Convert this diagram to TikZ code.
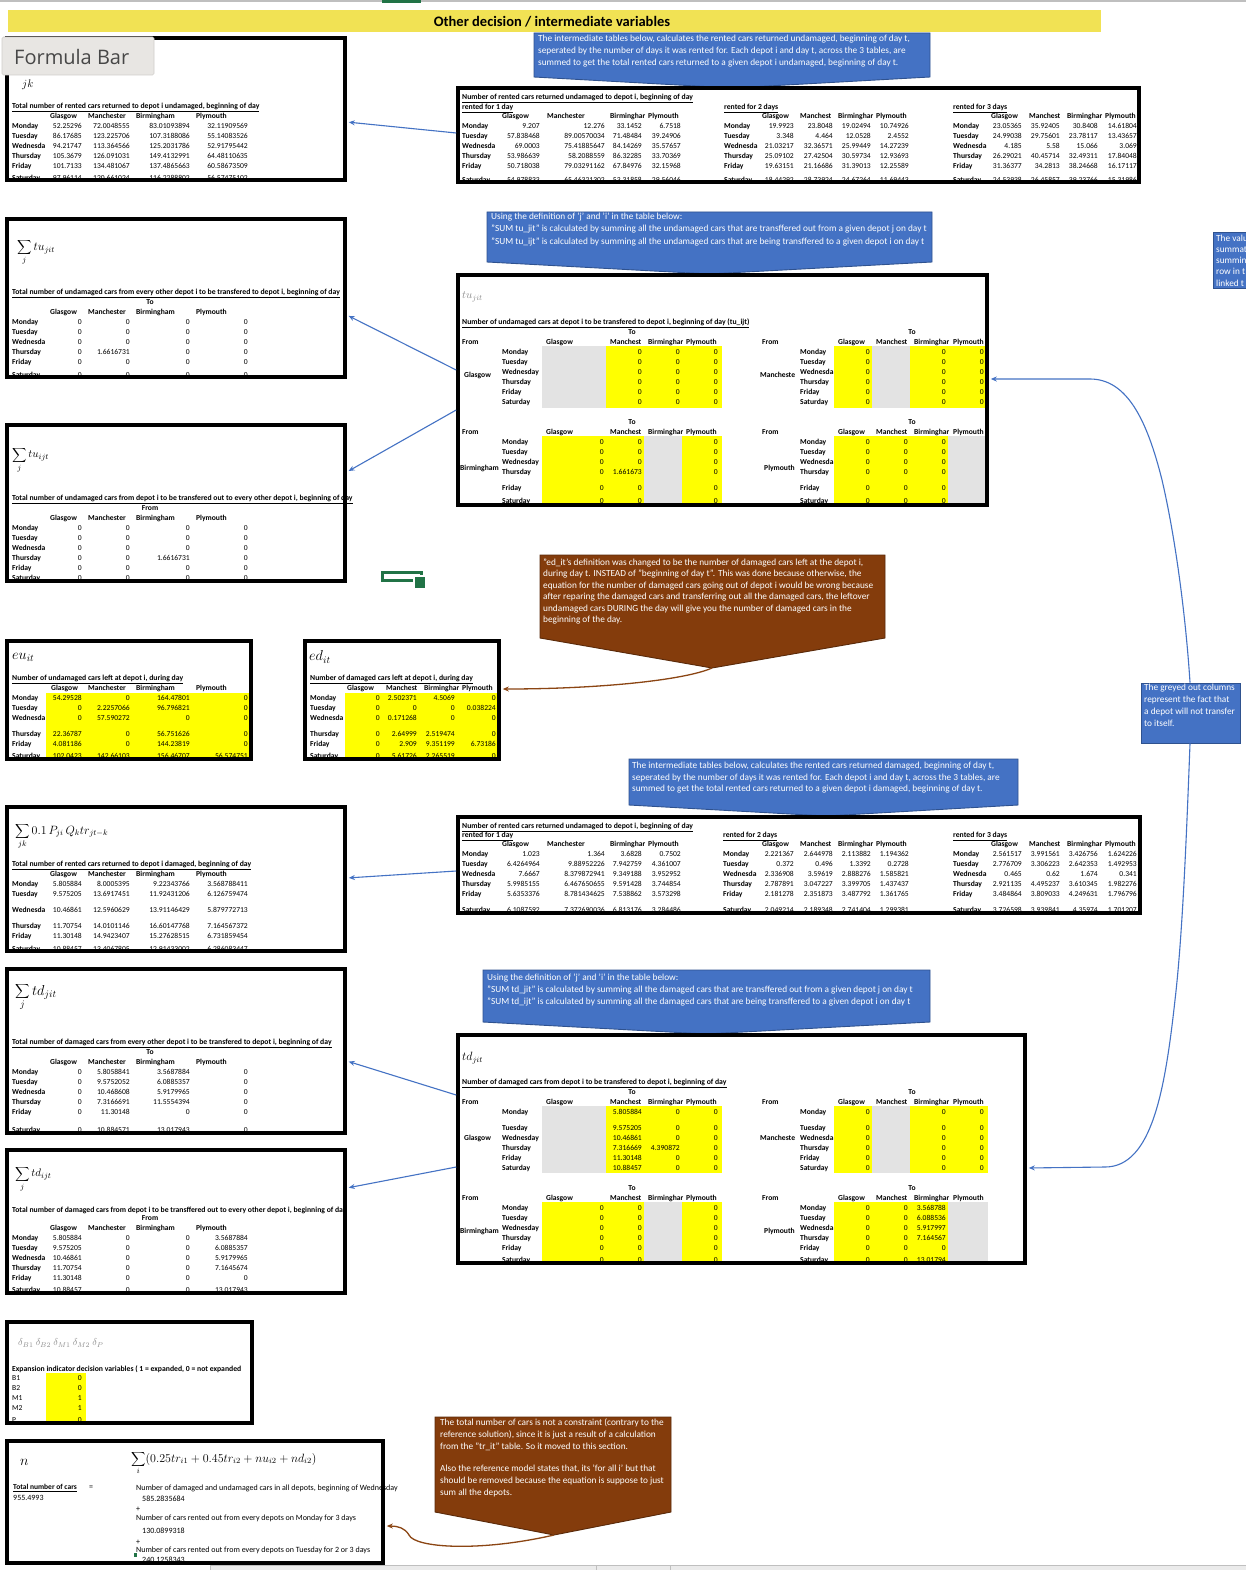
\documentclass[tikz,border=0pt]{standalone}
\usepackage[no-math]{fontspec}
\setmainfont{Carlito}
\newfontfamily\fbfont{Open Sans}
\usetikzlibrary{arrows.meta,fit}
\definecolor{cellyel}{HTML}{FFFF00}
\definecolor{cellgray}{HTML}{E3E3E3}
\definecolor{titleyel}{HTML}{F1E254}
\definecolor{cblue}{HTML}{4472C4}
\definecolor{cblueb}{HTML}{2F528F}
\definecolor{cbrown}{HTML}{843C0C}
\definecolor{cbrownb}{HTML}{5A2A0A}
\definecolor{brline}{HTML}{8B4513}
\definecolor{xlgreen}{HTML}{217346}
\definecolor{fbgray}{HTML}{E8E6E3}
\definecolor{fbedge}{HTML}{D0CECB}
\definecolor{fbtext}{HTML}{474747}
\newcommand\dfont{\fontsize{7.6}{9}\selectfont}
\newcommand\tfont{\fontsize{7.7}{9}\selectfont}
\newcommand\cfont{\fontsize{9.3}{12}\selectfont}
\tikzset{
 box/.style={draw=black, line width=3.6pt, inner sep=0pt},
 val/.style={font=\dfont, inner sep=0pt, anchor=east, text height=5.4pt, text depth=1.6pt},
 lbl/.style={font=\dfont\bfseries, inner sep=0pt, anchor=west, text height=5.4pt, text depth=1.6pt},
 rlbl/.style={font=\dfont, inner sep=0pt, anchor=west, text height=5.4pt, text depth=1.6pt},
 hd/.style={lbl},
 ctr/.style={font=\dfont\bfseries, inner sep=0pt, text height=5.4pt, text depth=1.6pt},
 ttl/.style={font=\tfont\bfseries, inner sep=0pt, anchor=west},
 ctext/.style={font=\cfont, text=white, inner sep=0pt},
 gtext/.style={font=\fontsize{9.3}{11}\selectfont, text=white, inner sep=0pt},
 ntext/.style={font=\fontsize{8}{9}\selectfont, inner sep=0pt, anchor=west},
 fml/.style={inner sep=0pt, anchor=west},
 barrow/.style={draw=cblue, line width=1.1pt, shorten >=2pt, -{Stealth[length=6pt,width=5pt]}},
 brarrow/.style={draw=brline, line width=1.3pt, shorten >=2pt, -{Stealth[length=6pt,width=5pt]}},
}
\newcommand\setcols[6]{\def\tid{#1}\def\lx{#2}\def\cA{#3}\def\cB{#4}\def\cC{#5}\def\cD{#6}}
\newcommand\sethead[4]{\def\hA{#1}\def\hB{#2}\def\hC{#3}\def\hD{#4}}
\newcommand\trow[6]{%
 \node[lbl] (\tid r#1) at (\lx,#1) {#2};
 \node[val] (\tid a#1) at (\cA,#1) {#3};
 \node[val] (\tid b#1) at (\cB,#1) {#4};
 \node[val] (\tid c#1) at (\cC,#1) {#5};
 \node[val] (\tid d#1) at (\cD,#1) {#6};}
\newcommand\thead[5]{%
 \node[hd] (\tid h1) at (\hA,#1) {#2};
 \node[hd] (\tid h2) at (\hB,#1) {#3};
 \node[hd] (\tid h3) at (\hC,#1) {#4};
 \node[hd] (\tid h4) at (\hD,#1) {#5};}
\newcommand\setq[5]{\def\tid{#1}\def\lx{#2}\def\cA{#3}\def\cB{#4}\def\cC{#5}}
\newcommand\qrow[5]{%
 \node[lbl] (\tid r#1) at (\lx,#1) {#2};
 \node[val] (\tid a#1) at (\cA,#1) {#3};
 \node[val] (\tid b#1) at (\cB,#1) {#4};
 \node[val] (\tid c#1) at (\cC,#1) {#5};}
\newcommand\clines[6]{\foreach \myline [count=\k] in {#6} {\node[#5, anchor=base west] (#1-\k) at (#2,{#3+(\k-1)*#4}) {\myline};}}
\newcommand\callout[8]{\filldraw[fill=#1, draw=#2, line width=0.9pt, line join=miter] (#3,#4) -- (#5,#4) -- (#5,#6) -- (#7,#8) -- (#3,#6) -- cycle;}
\begin{document}
\begin{tikzpicture}[x=1pt,y=-1pt]
\useasboundingbox (0,0) rectangle (1246,1570);
\fill[white] (0,0) rectangle (1246,1570);
\fill[black!25] (0,0) rectangle (1246,2.5);
\fill[xlgreen] (382,0) rectangle (421,3);
\fill[titleyel] (8,10) rectangle (1101,32);
\node[font=\fontsize{14.5}{16}\selectfont\bfseries, inner sep=0pt] (maintitle) at (552,22) {Other decision / intermediate variables};

% ---------- Box 1
\node[fml, font=\fontsize{11}{12}\selectfont] (f1) at (22,85) {$jk$};
\node[ttl] (t1) at (12,107) {\underline{Total number of rented cars returned to depot i undamaged, beginning of day}};
\begin{scope}
\clip (9,40) rectangle (343,178);
\setcols{A}{12}{82}{130}{190}{248}\sethead{50}{88}{136}{196}
\thead{117}{Glasgow}{Manchester}{Birmingham}{Plymouth}
\trow{127}{Monday}{52.25296}{72.0048555}{83.01093894}{32.11909569}
\trow{137}{Tuesday}{86.17685}{123.225706}{107.3188086}{55.14083526}
\trow{147}{Wednesda}{94.21747}{113.364566}{125.2031786}{52.91795442}
\trow{157}{Thursday}{105.3679}{126.091031}{149.4132991}{64.48110635}
\trow{167}{Friday}{101.7133}{134.481067}{137.4865663}{60.58673509}
\trow{179}{Saturday}{97.96114}{120.661024}{116.2288802}{56.57475102}
\end{scope}
\node[box, fit={(7,38) (345,180)}] (b1) {};

% ---------- Callout 1 and box 2
\callout{cblue}{cblueb}{534}{33}{930}{77}{732}{88}
\clines{c1}{538}{41.5}{12}{ctext}{{The intermediate tables below, calculates the rented cars returned undamaged, beginning of day t,},{seperated by the number of days it was rented for. Each depot i and day t, across the 3 tables, are},{summed to get the total rented cars returned to a given depot i undamaged, beginning of day t.}}
\node[ttl] (t2) at (462,98) {\underline{Number of rented cars returned undamaged to depot i, beginning of day}};
\node[ttl] (t2a) at (462,108) {\underline{rented for 1 day}};
\node[ttl] (t2b) at (724,108) {\underline{rented for 2 days}};
\node[ttl] (t2c) at (953,108) {\underline{rented for 3 days}};
\begin{scope}
\clip (460,90) rectangle (1137,180);
\setcols{B}{462}{540}{605}{642}{681}\sethead{502}{547}{610}{648}
\thead{117}{Glasgow}{Manchester}{Birminghar}{Plymouth}
\trow{127}{Monday}{9.207}{12.276}{33.1452}{6.7518}
\trow{137}{Tuesday}{57.838468}{89.00570034}{71.48484}{39.24906}
\trow{147}{Wednesda}{69.0003}{75.41885647}{84.14269}{35.57657}
\trow{157}{Thursday}{53.986639}{58.2088559}{86.32285}{33.70369}
\trow{167}{Friday}{50.718038}{79.03291162}{67.84976}{32.15968}
\trow{181}{Saturday}{54.978833}{65.46321302}{53.31858}{29.56046}
\setcols{C}{724}{794}{833}{871}{909}\sethead{762}{800}{838}{876}
\thead{117}{Glasgow}{Manchest}{Birminghar}{Plymouth}
\trow{127}{Monday}{19.9923}{23.8048}{19.02494}{10.74926}
\trow{137}{Tuesday}{3.348}{4.464}{12.0528}{2.4552}
\trow{147}{Wednesda}{21.03217}{32.36571}{25.99449}{14.27239}
\trow{157}{Thursday}{25.09102}{27.42504}{30.59734}{12.93693}
\trow{167}{Friday}{19.63151}{21.16686}{31.39013}{12.25589}
\trow{181}{Saturday}{18.44292}{28.73924}{24.67264}{11.69443}
\setcols{D}{953}{1022}{1060}{1098}{1137}\sethead{991}{1029}{1067}{1105}
\thead{117}{Glasgow}{Manchest}{Birminghar}{Plymouth}
\trow{127}{Monday}{23.05365}{35.92405}{30.8408}{14.61804}
\trow{137}{Tuesday}{24.99038}{29.75601}{23.78117}{13.43657}
\trow{147}{Wednesda}{4.185}{5.58}{15.066}{3.069}
\trow{157}{Thursday}{26.29021}{40.45714}{32.49311}{17.84048}
\trow{167}{Friday}{31.36377}{34.2813}{38.24668}{16.17117}
\trow{181}{Saturday}{24.53938}{26.45857}{39.23766}{15.31986}
\end{scope}
\node[box, fit={(458,88) (1139,182)}] (b2) {};

% ---------- Box 3
\node[fml, font=\fontsize{12}{14}\selectfont] (f3) at (17,252) {$\displaystyle\sum_j tu_{jit}$};
\node[ttl] (t3) at (12,293) {\underline{Total number of undamaged cars from every other depot i to be transfered to depot i, beginning of day}};
\begin{scope}
\clip (9,221) rectangle (343,375);
\node[ctr] (E-to) at (150,303) {To};
\setcols{E}{12}{82}{130}{190}{248}\sethead{50}{88}{136}{196}
\thead{313}{Glasgow}{Manchester}{Birmingham}{Plymouth}
\trow{323}{Monday}{0}{0}{0}{0}
\trow{333}{Tuesday}{0}{0}{0}{0}
\trow{343}{Wednesda}{0}{0}{0}{0}
\trow{353}{Thursday}{0}{1.6616731}{0}{0}
\trow{363}{Friday}{0}{0}{0}{0}
\trow{376}{Saturday}{0}{0}{0}{0}
\end{scope}
\node[box, fit={(7,219) (345,377)}] (b3) {};

% ---------- Callout 2 and box 4
\callout{cblue}{cblueb}{487}{212}{932}{262}{709}{274}
\clines{c2}{491}{220}{12}{ctext}{{Using the definition of 'j' and 'i' in the table below:},{"SUM tu\_jit" is calculated by summing all the undamaged cars that are transffered out from a given depot j on day t},{"SUM tu\_ijt" is calculated by summing all the undamaged cars that are being transffered to a given depot i on day t}}
\node[fml, font=\fontsize{11}{12}\selectfont, text=black!45] (f4) at (462,297) {$tu_{jit}$};
\node[ttl] (t4) at (462,323) {\underline{Number of undamaged cars at depot i to be transfered to depot i, beginning of day (tu\_ijt)}};
\begin{scope}
\clip (460,277) rectangle (985,503);
\fill[cellgray] (542,346) rectangle (606,408);
\fill[cellyel] (606,346) rectangle (722,408);
\fill[cellyel] (834,346) rectangle (872,408);
\fill[cellgray] (872,346) rectangle (910,408);
\fill[cellyel] (910,346) rectangle (987,408);
\fill[cellyel] (542,436) rectangle (644,505);
\fill[cellgray] (644,436) rectangle (682,505);
\fill[cellyel] (682,436) rectangle (722,505);
\fill[cellyel] (834,436) rectangle (948,505);
\fill[cellgray] (948,436) rectangle (987,505);
\node[ctr] (G-to) at (632,333) {To};
\node[lbl] (G-from) at (462,343) {From};
\node[lbl] (G-dep) at (464,376) {Glasgow};
\setq{G}{502}{642}{680}{718}\sethead{546}{610}{648}{686}
\thead{343}{Glasgow}{Manchest}{Birminghar}{Plymouth}
\qrow{353}{Monday}{0}{0}{0}
\qrow{363}{Tuesday}{0}{0}{0}
\qrow{373}{Wednesday}{0}{0}{0}
\qrow{383}{Thursday}{0}{0}{0}
\qrow{393}{Friday}{0}{0}{0}
\qrow{403}{Saturday}{0}{0}{0}
\node[ctr] (H-to) at (912,333) {To};
\node[lbl] (H-from) at (762,343) {From};
\node[lbl] (H-dep) at (760,376) {Mancheste};
\setq{H}{800}{870}{946}{984}\sethead{838}{876}{914}{953}
\thead{343}{Glasgow}{Manchest}{Birminghar}{Plymouth}
\qrow{353}{Monday}{0}{0}{0}
\qrow{363}{Tuesday}{0}{0}{0}
\qrow{373}{Wednesda}{0}{0}{0}
\qrow{383}{Thursday}{0}{0}{0}
\qrow{393}{Friday}{0}{0}{0}
\qrow{403}{Saturday}{0}{0}{0}
\node[ctr] (I-to) at (632,423) {To};
\node[lbl] (I-from) at (462,433) {From};
\node[lbl] (I-dep) at (460,469) {Birmingham};
\setq{I}{502}{604}{642}{718}\sethead{546}{610}{648}{686}
\thead{433}{Glasgow}{Manchest}{Birminghar}{Plymouth}
\qrow{443}{Monday}{0}{0}{0}
\qrow{453}{Tuesday}{0}{0}{0}
\qrow{463}{Wednesday}{0}{0}{0}
\qrow{473}{Thursday}{0}{1.661673}{0}
\qrow{489}{Friday}{0}{0}{0}
\qrow{502}{Saturday}{0}{0}{0}
\node[ctr] (J-to) at (912,423) {To};
\node[lbl] (J-from) at (762,433) {From};
\node[lbl] (J-dep) at (764,469) {Plymouth};
\setq{J}{800}{870}{908}{946}\sethead{838}{876}{914}{953}
\thead{433}{Glasgow}{Manchest}{Birminghar}{Plymouth}
\qrow{443}{Monday}{0}{0}{0}
\qrow{453}{Tuesday}{0}{0}{0}
\qrow{463}{Wednesda}{0}{0}{0}
\qrow{473}{Thursday}{0}{0}{0}
\qrow{489}{Friday}{0}{0}{0}
\qrow{502}{Saturday}{0}{0}{0}
\end{scope}
\node[box, fit={(458,275) (987,505)}] (b4) {};

% ---------- right side notes
\begin{scope}
\clip (0,0) rectangle (1246,1570);
\node[fill=cblue, draw=cblueb, line width=0.9pt, inner sep=0pt, fit={(1213,232) (1258,288)}] (valbox) {};
\clines{v}{1216}{241}{11.3}{gtext}{{The valu},{summat},{summin},{row in t},{linked t}}
\end{scope}
\node[fill=cblue, draw=cblueb, line width=0.9pt, inner sep=0pt, fit={(1141,683) (1240,743)}] (grey) {};
\clines{g}{1144}{690.5}{12}{gtext}{{The greyed out columns},{represent the fact that},{a depot will not transfer},{to itself.}}

% ---------- Box 5
\node[fml, font=\fontsize{11}{12}\selectfont] (f5) at (12,460) {$\displaystyle\sum_j tu_{ijt}$};
\node[ttl] (t5) at (12,499) {\underline{Total number of undamaged cars from depot i to be transfered out to every other depot i, beginning of day}};
\begin{scope}
\clip (9,427) rectangle (343,579);
\node[ctr] (F-from) at (150,509) {From};
\setcols{F}{12}{82}{130}{190}{248}\sethead{50}{88}{136}{196}
\thead{519}{Glasgow}{Manchester}{Birmingham}{Plymouth}
\trow{529}{Monday}{0}{0}{0}{0}
\trow{539}{Tuesday}{0}{0}{0}{0}
\trow{549}{Wednesda}{0}{0}{0}{0}
\trow{559}{Thursday}{0}{0}{1.6616731}{0}
\trow{569}{Friday}{0}{0}{0}{0}
\trow{579}{Saturday}{0}{0}{0}{0}
\end{scope}
\node[box, fit={(7,425) (345,581)}] (b5) {};

% green icon
\draw[xlgreen, line width=3pt] (382,572) rectangle (421,580);
\fill[white] (413,575) rectangle (428,590);
\fill[xlgreen] (415,577) rectangle (425,588);

% ---------- eu box
\node[fml, font=\fontsize{14}{16}\selectfont] (feu) at (12,657) {$eu_{it}$};
\node[ttl] (teu) at (12,679) {\underline{Number of undamaged cars left at depot i, during day}};
\begin{scope}
\clip (9,643) rectangle (249,757);
\fill[cellyel] (46,693) rectangle (251,759);
\setcols{N}{12}{82}{130}{190}{248}\sethead{51}{88}{136}{196}
\thead{689}{Glasgow}{Manchester}{Birmingham}{Plymouth}
\trow{699}{Monday}{54.29528}{0}{164.47801}{0}
\trow{709}{Tuesday}{0}{2.2257066}{96.796821}{0}
\trow{719}{Wednesda}{0}{57.590272}{0}{0}
\trow{735}{Thursday}{22.36787}{0}{56.751626}{0}
\trow{745}{Friday}{4.081186}{0}{144.23819}{0}
\trow{757}{Saturday}{102.0423}{142.66103}{156.46707}{56.574751}
\end{scope}
\node[box, fit={(7,641) (251,759)}] (beu) {};

% ---------- ed box
\node[fml, font=\fontsize{14}{16}\selectfont] (fed) at (309,657) {$ed_{it}$};
\node[ttl] (ted) at (310,679) {\underline{Number of damaged cars left at depot i, during day}};
\begin{scope}
\clip (307,643) rectangle (497,757);
\fill[cellyel] (345,693) rectangle (499,759);
\setcols{O}{310}{380}{417}{455}{496}\sethead{347}{386}{424}{462}
\thead{689}{Glasgow}{Manchest}{Birminghar}{Plymouth}
\trow{699}{Monday}{0}{2.502371}{4.5069}{0}
\trow{709}{Tuesday}{0}{0}{0}{0.038224}
\trow{719}{Wednesda}{0}{0.171268}{0}{0}
\trow{735}{Thursday}{0}{2.64999}{2.519474}{0}
\trow{745}{Friday}{0}{2.909}{9.351199}{6.73186}
\trow{757}{Saturday}{0}{5.61726}{2.265519}{0}
\end{scope}
\node[box, fit={(305,641) (499,759)}] (bed) {};

% ---------- brown callout 1
\callout{cbrown}{cbrownb}{540}{555}{885}{638}{712}{668}
\coordinate (br1tip) at (712,668);
\clines{r1}{543}{565}{11.5}{ctext}{{"ed\_it's definition was changed to be the number of damaged cars left at the depot i,},{during day t. INSTEAD of "beginning of day t". This was done because otherwise, the},{equation for the number of damaged cars going out of depot i would be wrong because},{after reparing the damaged cars and transferring out all the damaged cars, the leftover},{undamaged cars DURING the day will give you the number of damaged cars in the},{beginning of the day.}}

% ---------- callout 3 and box 7
\callout{cblue}{cblueb}{629}{759}{1018}{805}{826}{816}
\clines{c3}{632}{768.5}{11.5}{ctext}{{The intermediate tables below, calculates the rented cars returned damaged, beginning of day t,},{seperated by the number of days it was rented for. Each depot i and day t, across the 3 tables, are},{summed to get the total rented cars returned to a given depot i damaged, beginning of day t.}}
\node[ttl] (t7) at (462,827) {\underline{Number of rented cars returned undamaged to depot i, beginning of day}};
\node[ttl] (t7a) at (462,836) {\underline{rented for 1 day}};
\node[ttl] (t7b) at (723,836) {\underline{rented for 2 days}};
\node[ttl] (t7c) at (953,836) {\underline{rented for 3 days}};
\begin{scope}
\clip (460,819) rectangle (1138,911);
\setcols{K}{462}{540}{605}{642}{681}\sethead{502}{547}{610}{648}
\thead{845}{Glasgow}{Manchester}{Birminghar}{Plymouth}
\trow{855}{Monday}{1.023}{1.364}{3.6828}{0.7502}
\trow{865}{Tuesday}{6.4264964}{9.88952226}{7.942759}{4.361007}
\trow{875}{Wednesda}{7.6667}{8.379872941}{9.349188}{3.952952}
\trow{885}{Thursday}{5.9985155}{6.467650655}{9.591428}{3.744854}
\trow{895}{Friday}{5.6353376}{8.781434625}{7.538862}{3.573298}
\trow{911}{Saturday}{6.1087592}{7.372690036}{6.813176}{3.284486}
\setcols{L}{723}{794}{833}{871}{909}\sethead{762}{800}{838}{876}
\thead{845}{Glasgow}{Manchest}{Birminghar}{Plymouth}
\trow{855}{Monday}{2.221367}{2.644978}{2.113882}{1.194362}
\trow{865}{Tuesday}{0.372}{0.496}{1.3392}{0.2728}
\trow{875}{Wednesda}{2.336908}{3.59619}{2.888276}{1.585821}
\trow{885}{Thursday}{2.787891}{3.047227}{3.399705}{1.437437}
\trow{895}{Friday}{2.181278}{2.351873}{3.487792}{1.361765}
\trow{911}{Saturday}{2.049214}{2.189348}{2.741404}{1.299381}
\setcols{M}{953}{1022}{1060}{1098}{1137}\sethead{991}{1029}{1067}{1105}
\thead{845}{Glasgow}{Manchest}{Birminghar}{Plymouth}
\trow{855}{Monday}{2.561517}{3.991561}{3.426756}{1.624226}
\trow{865}{Tuesday}{2.776709}{3.306223}{2.642353}{1.492953}
\trow{875}{Wednesda}{0.465}{0.62}{1.674}{0.341}
\trow{885}{Thursday}{2.921135}{4.495237}{3.610345}{1.982276}
\trow{895}{Friday}{3.484864}{3.809033}{4.249631}{1.796796}
\trow{911}{Saturday}{3.726598}{3.939841}{4.35974}{1.701207}
\end{scope}
\node[box, fit={(458,817) (1140,913)}] (b7) {};

% ---------- Box 6
\node[fml, font=\fontsize{12}{14}\selectfont] (f6) at (15,836) {$\displaystyle\sum_{jk} 0.1\,P_{ji}\,Q_k tr_{jt-k}$};
\node[ttl] (t6) at (12,865) {\underline{Total number of rented cars returned to depot i damaged, beginning of day}};
\begin{scope}
\clip (9,809) rectangle (343,949);
\setcols{P}{12}{82}{130}{190}{248}\sethead{50}{88}{136}{196}
\thead{875}{Glasgow}{Manchester}{Birmingham}{Plymouth}
\trow{885}{Monday}{5.805884}{8.0005395}{9.22343766}{3.568788411}
\trow{895}{Tuesday}{9.575205}{13.6917451}{11.92431206}{6.126759474}
\trow{911}{Wednesda}{10.46861}{12.5960629}{13.91146429}{5.879772713}
\trow{927}{Thursday}{11.70754}{14.0101146}{16.60147768}{7.164567372}
\trow{937}{Friday}{11.30148}{14.9423407}{15.27628515}{6.731859454}
\trow{950}{Saturday}{10.88457}{13.4067805}{12.91433002}{6.286083447}
\end{scope}
\node[box, fit={(7,807) (345,951)}] (b6) {};

% ---------- Box 8
\node[fml, font=\fontsize{14}{16}\selectfont] (f8) at (15,997) {$\displaystyle\sum_j td_{jit}$};
\node[ttl] (t8) at (12,1043) {\underline{Total number of damaged cars from every other depot i to be transfered to depot i, beginning of day}};
\begin{scope}
\clip (9,971) rectangle (343,1131);
\node[ctr] (Q-to) at (150,1053) {To};
\setcols{Q}{12}{82}{130}{190}{248}\sethead{50}{88}{136}{196}
\thead{1063}{Glasgow}{Manchester}{Birmingham}{Plymouth}
\trow{1073}{Monday}{0}{5.8058841}{3.5687884}{0}
\trow{1083}{Tuesday}{0}{9.5752052}{6.0885357}{0}
\trow{1093}{Wednesda}{0}{10.468608}{5.9179965}{0}
\trow{1103}{Thursday}{0}{7.3166691}{11.5554394}{0}
\trow{1113}{Friday}{0}{11.30148}{0}{0}
\trow{1131}{Saturday}{0}{10.884571}{13.017943}{0}
\end{scope}
\node[box, fit={(7,969) (345,1133)}] (b8) {};

% ---------- callout 4 and box 9
\callout{cblue}{cblueb}{483}{970}{930}{1022}{706}{1034}
\clines{c4}{487}{980}{12}{ctext}{{Using the definition of 'j' and 'i' in the table below:},{"SUM td\_jit" is calculated by summing all the damaged cars that are transffered out from a given depot j on day t},{"SUM td\_ijt" is calculated by summing all the damaged cars that are being transffered to a given depot i on day t}}
\node[fml, font=\fontsize{12}{14}\selectfont] (f9) at (462,1058) {$td_{jit}$};
\node[ttl] (t9) at (462,1083) {\underline{Number of damaged cars from depot i to be transfered to depot i, beginning of day}};
\begin{scope}
\clip (460,1037) rectangle (1023,1261);
\fill[cellgray] (542,1106) rectangle (606,1173);
\fill[cellyel] (606,1106) rectangle (722,1173);
\fill[cellyel] (834,1106) rectangle (872,1173);
\fill[cellgray] (872,1106) rectangle (910,1173);
\fill[cellyel] (910,1106) rectangle (988,1173);
\fill[cellyel] (542,1202) rectangle (644,1263);
\fill[cellgray] (644,1202) rectangle (682,1263);
\fill[cellyel] (682,1202) rectangle (722,1263);
\fill[cellyel] (834,1202) rectangle (948,1263);
\fill[cellgray] (948,1202) rectangle (988,1263);
\node[ctr] (S-to) at (632,1093) {To};
\node[lbl] (S-from) at (462,1103) {From};
\node[lbl] (S-dep) at (464,1139) {Glasgow};
\setq{S}{502}{642}{680}{718}\sethead{546}{610}{648}{686}
\thead{1103}{Glasgow}{Manchest}{Birminghar}{Plymouth}
\qrow{1113}{Monday}{5.805884}{0}{0}
\qrow{1129}{Tuesday}{9.575205}{0}{0}
\qrow{1139}{Wednesday}{10.46861}{0}{0}
\qrow{1149}{Thursday}{7.316669}{4.390872}{0}
\qrow{1159}{Friday}{11.30148}{0}{0}
\qrow{1169}{Saturday}{10.88457}{0}{0}
\node[ctr] (T-to) at (912,1093) {To};
\node[lbl] (T-from) at (762,1103) {From};
\node[lbl] (T-dep) at (760,1139) {Mancheste};
\setq{T}{800}{870}{946}{984}\sethead{838}{876}{914}{953}
\thead{1103}{Glasgow}{Manchest}{Birminghar}{Plymouth}
\qrow{1113}{Monday}{0}{0}{0}
\qrow{1129}{Tuesday}{0}{0}{0}
\qrow{1139}{Wednesda}{0}{0}{0}
\qrow{1149}{Thursday}{0}{0}{0}
\qrow{1159}{Friday}{0}{0}{0}
\qrow{1169}{Saturday}{0}{0}{0}
\node[ctr] (U-to) at (632,1189) {To};
\node[lbl] (U-from) at (462,1199) {From};
\node[lbl] (U-dep) at (460,1232) {Birmingham};
\setq{U}{502}{604}{642}{718}\sethead{546}{610}{648}{686}
\thead{1199}{Glasgow}{Manchest}{Birminghar}{Plymouth}
\qrow{1209}{Monday}{0}{0}{0}
\qrow{1219}{Tuesday}{0}{0}{0}
\qrow{1229}{Wednesday}{0}{0}{0}
\qrow{1239}{Thursday}{0}{0}{0}
\qrow{1249}{Friday}{0}{0}{0}
\qrow{1261}{Saturday}{0}{0}{0}
\node[ctr] (V-to) at (912,1189) {To};
\node[lbl] (V-from) at (762,1199) {From};
\node[lbl] (V-dep) at (764,1232) {Plymouth};
\setq{V}{800}{870}{908}{946}\sethead{838}{876}{914}{953}
\thead{1199}{Glasgow}{Manchest}{Birminghar}{Plymouth}
\qrow{1209}{Monday}{0}{0}{3.568788}
\qrow{1219}{Tuesday}{0}{0}{6.088536}
\qrow{1229}{Wednesda}{0}{0}{5.917997}
\qrow{1239}{Thursday}{0}{0}{7.164567}
\qrow{1249}{Friday}{0}{0}{0}
\qrow{1261}{Saturday}{0}{0}{13.01794}
\end{scope}
\node[box, fit={(458,1035) (1025,1263)}] (b9) {};

% ---------- Box 10
\node[fml, font=\fontsize{11}{12}\selectfont] (f10) at (15,1179) {$\displaystyle\sum_j td_{ijt}$};
\begin{scope}
\clip (9,1152) rectangle (343,1291);
\node[ttl] (t10) at (12,1210) {Total number of damaged cars from depot i to be transffered out to every other depot i, beginning of day};
\node[ctr] (R-from) at (150,1219) {From};
\setcols{R}{12}{82}{130}{190}{248}\sethead{50}{88}{136}{196}
\thead{1229}{Glasgow}{Manchester}{Birmingham}{Plymouth}
\trow{1239}{Monday}{5.805884}{0}{0}{3.5687884}
\trow{1249}{Tuesday}{9.575205}{0}{0}{6.0885357}
\trow{1259}{Wednesda}{10.46861}{0}{0}{5.9179965}
\trow{1269}{Thursday}{11.70754}{0}{0}{7.1645674}
\trow{1279}{Friday}{11.30148}{0}{0}{0}
\trow{1291}{Saturday}{10.88457}{0}{0}{13.017943}
\end{scope}
\node[box, fit={(7,1150) (345,1293)}] (b10) {};

% ---------- Box 11
\node[fml, font=\fontsize{10}{12}\selectfont, text=black!45] (f11) at (18,1343) {$\delta_{B1}\ \delta_{B2}\ \delta_{M1}\ \delta_{M2}\ \delta_P$};
\begin{scope}
\clip (9,1324) rectangle (250,1421);
\node[ttl] (t11) at (12,1369) {Expansion indicator decision variables ( 1 = expanded, 0 = not expanded};
\fill[cellyel] (46,1373) rectangle (86,1423);
\node[rlbl] (x1) at (12,1379) {B1}; \node[val] (y1) at (82,1379) {0};
\node[rlbl] (x2) at (12,1389) {B2}; \node[val] (y2) at (82,1389) {0};
\node[rlbl] (x3) at (12,1399) {M1}; \node[val] (y3) at (82,1399) {1};
\node[rlbl] (x4) at (12,1409) {M2}; \node[val] (y4) at (82,1409) {1};
\node[rlbl] (x5) at (12,1421) {P}; \node[val] (y5) at (82,1421) {0};
\end{scope}
\node[box, fit={(7,1322) (252,1423)}] (b11) {};

% ---------- brown callout 2
\callout{cbrown}{cbrownb}{435}{1417}{671}{1512}{554}{1535}
\coordinate (br2tip) at (554,1535);
\clines{r2}{440}{1425.5}{12}{ctext}{{The total number of cars is not a constraint (contrary to the},{reference solution), since it is just a result of a calculation},{from the "tr\_it" table. So it moved to this section.}}
\clines{r3}{440}{1471.5}{12}{ctext}{{Also the reference model states that, its 'for all i' but that},{should be removed because the equation is suppose to just},{sum all the depots.}}

% ---------- Box 12
\node[fml, font=\fontsize{14}{16}\selectfont] (fn) at (20,1462) {$n$};
\node[fml, font=\fontsize{12}{14}\selectfont] (fnf) at (131,1463) {$\displaystyle\sum_i (0.25tr_{i1}+0.45tr_{i2}+nu_{i2}+nd_{i2})$};
\node[ntext, font=\fontsize{7.5}{8}\selectfont\bfseries] (n1) at (13,1488) {\underline{Total number of cars}};
\node[ntext] (n2) at (89,1488) {=};
\node[ntext] (n3) at (13,1498) {955.4993};
\node[ntext] (n4) at (136,1488) {Number of damaged and undamaged cars in all depots, beginning of Wednesday};
\node[ntext] (n5) at (142,1499) {585.2835684};
\node[ntext] (n6) at (136,1509) {+};
\node[ntext] (n7) at (136,1518) {Number of cars rented out from every depots on Monday for 3 days};
\node[ntext] (n8) at (142,1531) {130.0899318};
\node[ntext] (n9) at (136,1542) {+};
\node[ntext] (n10) at (136,1550) {Number of cars rented out from every depots on Tuesday for 2 or 3 days};
\begin{scope}
\clip (9,1443) rectangle (381,1561);
\node[ntext] (n11) at (142,1560) {240.1258343};
\end{scope}
\fill[xlgreen] (134,1553) rectangle (137,1557);
\node[box, fit={(7,1441) (383,1563)}] (b12) {};

% bottom strip
\fill[black!8] (210,1565) rectangle (1246,1570);
\draw[black!25, line width=0.6pt] (210,1565) -- (1246,1565) (210,1565) -- (210,1570) (596,1565) -- (596,1570) (670,1565) -- (670,1570);

% ---------- connectors
\draw[barrow] (b2.west |- 0,133) -- (b1.east |- 0,122);
\draw[barrow] (b4.west |- 0,370) -- (b3.east |- 0,315);
\draw[barrow] (b4.west |- 0,410) -- (b5.east |- 0,472);
\draw[barrow] (b7.west |- 0,871) -- (b6.east |- 0,878);
\draw[barrow] (b9.west |- 0,1095) -- (b8.east |- 0,1061);
\draw[barrow] (b9.west |- 0,1167) -- (b10.east |- 0,1188);
\draw[barrow] (grey.north -| 1190,0) .. controls (1186,620) and (1176,540) .. (1162,480) .. controls (1147,420) and (1127,379) .. (1090,379) -- (b4.east |- 0,379);
\draw[barrow] (grey.south -| 1190,0) .. controls (1186,850) and (1182,940) .. (1175,1000) .. controls (1165,1090) and (1152,1167) .. (1105,1167) -- (b9.east |- 0,1168);
\draw[brarrow] (br1tip) .. controls (685,680) and (600,689) .. (bed.east |- 0,689);
\draw[brarrow] (br2tip) .. controls (480,1552) and (415,1548) .. (409,1535) .. controls (405,1528) and (398,1526) .. (b12.east |- 0,1526);

% ---------- Formula bar overlay
\node[fill=fbgray, draw=fbedge, line width=0.6pt, rounded corners=1.5pt, inner sep=0pt, fit={(2,37) (154,75)}] (fbar) {};
\node[font=\fbfont\fontsize{20}{22}\selectfont, text=fbtext, anchor=west, inner sep=0pt] (fbtext) at (14,57) {Formula Bar};
\end{tikzpicture}
\end{document}
